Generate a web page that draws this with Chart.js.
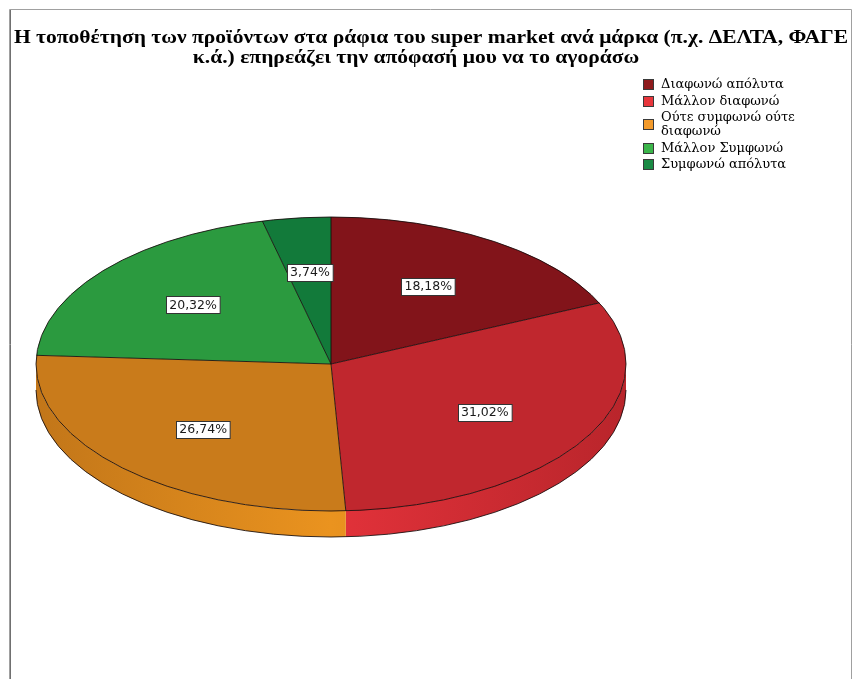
<!DOCTYPE html>
<html>
<head>
<meta charset="utf-8">
<script src="https://cdn.jsdelivr.net/npm/chart.js@4/dist/chart.umd.min.js"></script>
<style>
  html, body { margin: 0; padding: 0; background: #ffffff; }
  #wrap { width: 854px; height: 679px; }
</style>
</head>
<body>
<div id="wrap"><canvas id="chart" width="854" height="679"></canvas></div>
<script>
// Answer categories (top of the pie, clockwise)
const categories = [
  'Διαφωνώ απόλυτα',
  'Μάλλον διαφωνώ',
  'Ούτε συμφωνώ ούτε διαφωνώ',
  'Μάλλον Συμφωνώ',
  'Συμφωνώ απόλυτα'
];
// Share of respondents, %
const percentages = [18.18, 31.02, 26.74, 20.32, 3.74];
// Legend text, wrapped the way it is printed
const legendLines = [
  ['Διαφωνώ απόλυτα'],
  ['Μάλλον διαφωνώ'],
  ['Ούτε συμφωνώ ούτε', 'διαφωνώ'],
  ['Μάλλον Συμφωνώ'],
  ['Συμφωνώ απόλυτα']
];
const titleLines = [
  'Η τοποθέτηση των προϊόντων στα ράφια του super market ανά μάρκα (π.χ. ΔΕΛΤΑ, ΦΑΓΕ',
  'κ.ά.) επηρεάζει την απόφασή μου να το αγοράσω'
];

// Styling
const topColors    = ['#82141a', '#c0272e', '#c97b1b', '#2b9a3f', '#127a3a'];
const sideColors   = ['#9a1a20', '#e2323a', '#ea931f', '#35b04a', '#1a8a44'];
const edgeColors   = ['#7a1217', '#b9252b', '#c27619', '#27903a', '#0f6e34'];
const legendColors = ['#8e1a1c', '#e8363c', '#f39a2a', '#3bb54a', '#1a8a44'];
const TILT = 147 / 295;   // vertical squash of the pie top
const DEPTH = 26;         // thickness of the pie wall in px

function pieGeometry(chart) {
  const arcs = chart.getDatasetMeta(0).data;
  const a = arcs[0];
  return { arcs, x: a.x, y: a.y, r: a.outerRadius, ry: a.outerRadius * TILT };
}

// Frame around the whole figure and the title
const framePlugin = {
  id: 'frame',
  beforeDraw(chart) {
    const ctx = chart.ctx;
    ctx.save();
    ctx.fillStyle = '#ffffff';
    ctx.fillRect(0, 0, chart.width, chart.height);
    ctx.strokeStyle = '#a0a0a0';
    ctx.lineWidth = 1;
    ctx.beginPath();
    ctx.moveTo(9.5, chart.height);
    ctx.lineTo(9.5, 9.5);
    ctx.lineTo(851.5, 9.5);
    ctx.lineTo(851.5, chart.height);
    ctx.stroke();
    ctx.strokeStyle = '#707070';
    ctx.beginPath();
    ctx.moveTo(10.5, chart.height);
    ctx.lineTo(10.5, 10);
    ctx.stroke();

    // two-line title, set in a wide bold serif
    ctx.fillStyle = '#000000';
    ctx.font = 'bold 19px "Liberation Serif", "Times New Roman", serif';
    ctx.textAlign = 'center';
    ctx.textBaseline = 'middle';
    const stretch = 834 / ctx.measureText(titleLines[0]).width;
    [[titleLines[0], 431, 38], [titleLines[1], 416, 58]].forEach(([t, cx, cy]) => {
      ctx.save();
      ctx.translate(cx, cy);
      ctx.scale(stretch, 1);
      ctx.fillText(t, 0, 0);
      ctx.restore();
    });
    ctx.restore();
  }
};

// Gives the pie a tilted, 3‑D look: wall first, then the squashed top face
const tiltPlugin = {
  id: 'tilt',
  beforeDatasetsDraw(chart) {
    const ctx = chart.ctx;
    const { arcs, x, y, r, ry } = pieGeometry(chart);
    ctx.save();
    arcs.forEach((arc, i) => {
      const a0 = Math.max(arc.startAngle, 0);
      const a1 = Math.min(arc.endAngle, Math.PI);
      if (a1 <= a0) return;
      const g = ctx.createLinearGradient(x - r, 0, x + r, 0);
      g.addColorStop(0, edgeColors[i]);
      g.addColorStop(0.5, sideColors[i]);
      g.addColorStop(1, edgeColors[i]);
      ctx.beginPath();
      ctx.ellipse(x, y, r, ry, 0, a0, a1, false);
      ctx.ellipse(x, y + DEPTH, r, ry, 0, a1, a0, true);
      ctx.closePath();
      ctx.fillStyle = g;
      ctx.fill();
    });
    ctx.restore();

    ctx.save();
    ctx.translate(0, y);
    ctx.scale(1, TILT);
    ctx.translate(0, -y);
  },
  afterDatasetsDraw(chart) {
    const ctx = chart.ctx;
    ctx.restore();
    const { arcs, x, y, r, ry } = pieGeometry(chart);

    // outlines
    ctx.save();
    ctx.strokeStyle = 'rgba(20,10,10,0.85)';
    ctx.lineWidth = 1;
    ctx.beginPath();
    ctx.ellipse(x, y, r, ry, 0, 0, Math.PI * 2);
    ctx.stroke();
    ctx.beginPath();
    ctx.ellipse(x, y + DEPTH, r, ry, 0, 0, Math.PI);
    ctx.stroke();
    ctx.beginPath();
    arcs.forEach(arc => {
      ctx.moveTo(x, y);
      ctx.lineTo(x + r * Math.cos(arc.startAngle), y + ry * Math.sin(arc.startAngle));
    });
    ctx.stroke();

    // value labels
    ctx.font = '12.5px "DejaVu Sans", Verdana, sans-serif';
    ctx.textAlign = 'center';
    ctx.textBaseline = 'middle';
    arcs.forEach((arc, i) => {
      const mid = (arc.startAngle + arc.endAngle) / 2;
      const lx = x + Math.cos(mid) * r * 0.61;
      const ly = y + Math.sin(mid) * ry * 0.63;
      const text = percentages[i].toFixed(2).replace('.', ',') + '%';
      const w = ctx.measureText(text).width + 6;
      const h = 17;
      const bx = Math.round(lx - w / 2) + 0.5;
      const by = Math.round(ly - h / 2) + 0.5;
      ctx.fillStyle = '#ffffff';
      ctx.fillRect(bx, by, w, h);
      ctx.strokeStyle = '#333333';
      ctx.strokeRect(bx, by, w, h);
      ctx.fillStyle = '#1a1a1a';
      ctx.fillText(text, lx, ly + 1);
    });
    ctx.restore();
  }
};

// Legend in the top right corner
const legendPlugin = {
  id: 'sideLegend',
  afterDraw(chart) {
    const ctx = chart.ctx;
    ctx.save();
    ctx.font = '13px "DejaVu Serif", "Liberation Serif", serif';
    ctx.textAlign = 'left';
    ctx.textBaseline = 'middle';
    let yy = 85;
    const lineH = 14;
    legendLines.forEach((lines, i) => {
      const boxCy = yy + (lines.length - 1) * lineH / 2;
      ctx.fillStyle = legendColors[i];
      ctx.fillRect(643, Math.round(boxCy - 6), 11, 11);
      ctx.strokeStyle = '#3a3a3a';
      ctx.lineWidth = 1;
      ctx.strokeRect(643.5, Math.round(boxCy - 6) + 0.5, 10, 10);
      ctx.fillStyle = '#000000';
      lines.forEach((t, k) => ctx.fillText(t, 661, yy + k * lineH));
      yy += lines.length * lineH + 2.5;
    });
    ctx.restore();
  }
};

new Chart(document.getElementById('chart'), {
  type: 'pie',
  data: {
    labels: categories,
    datasets: [{
      data: percentages,
      backgroundColor: topColors,
      borderWidth: 0,
      radius: 295,
      clip: false
    }]
  },
  options: {
    responsive: false,
    animation: false,
    events: [],
    layout: { padding: { left: 20, right: 212, top: 70, bottom: 21 } },
    plugins: {
      legend: { display: false },
      title: { display: false },
      tooltip: { enabled: false }
    }
  },
  plugins: [framePlugin, tiltPlugin, legendPlugin]
});
</script>
</body>
</html>
